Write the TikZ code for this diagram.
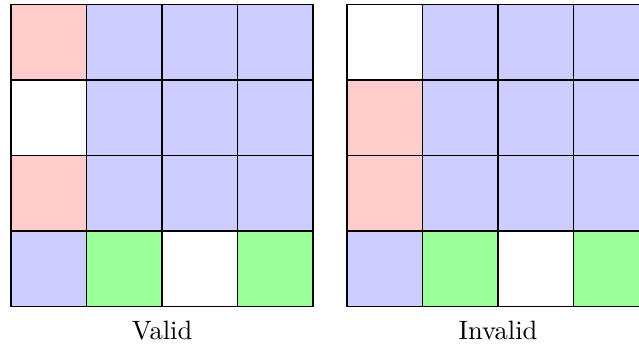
\documentclass[tikz,border=0pt]{standalone}
\tikzset{
  cellr/.style={fill=red!20, draw=black},
  cellb/.style={fill=blue!20, draw=black},
  cellg/.style={fill=green!40, draw=black},
  cellw/.style={fill=white, draw=black},
  caption/.style={anchor=base, inner sep=0pt}
}
\begin{document}
\begin{tikzpicture}
\useasboundingbox (-0.146,-0.543) rectangle (8.318,4.06);
% left grid (rows top to bottom)
\foreach \x/\y/\s in {0/3/cellr,1/3/cellb,2/3/cellb,3/3/cellb,
                      0/2/cellw,1/2/cellb,2/2/cellb,3/2/cellb,
                      0/1/cellr,1/1/cellb,2/1/cellb,3/1/cellb,
                      0/0/cellb,1/0/cellg,2/0/cellw,3/0/cellg}
  \draw[\s] (\x,\y) rectangle ++(1,1);
\node[caption] (valid) at (2,-0.437) {Valid};
% right grid
\begin{scope}[xshift=4.45cm]
\foreach \x/\y/\s in {0/3/cellw,1/3/cellb,2/3/cellb,3/3/cellb,
                      0/2/cellr,1/2/cellb,2/2/cellb,3/2/cellb,
                      0/1/cellr,1/1/cellb,2/1/cellb,3/1/cellb,
                      0/0/cellb,1/0/cellg,2/0/cellw,3/0/cellg}
  \draw[\s] (\x,\y) rectangle ++(1,1);
\node[caption] (invalid) at (2,-0.437) {Invalid};
\end{scope}
\end{tikzpicture}
\end{document}
